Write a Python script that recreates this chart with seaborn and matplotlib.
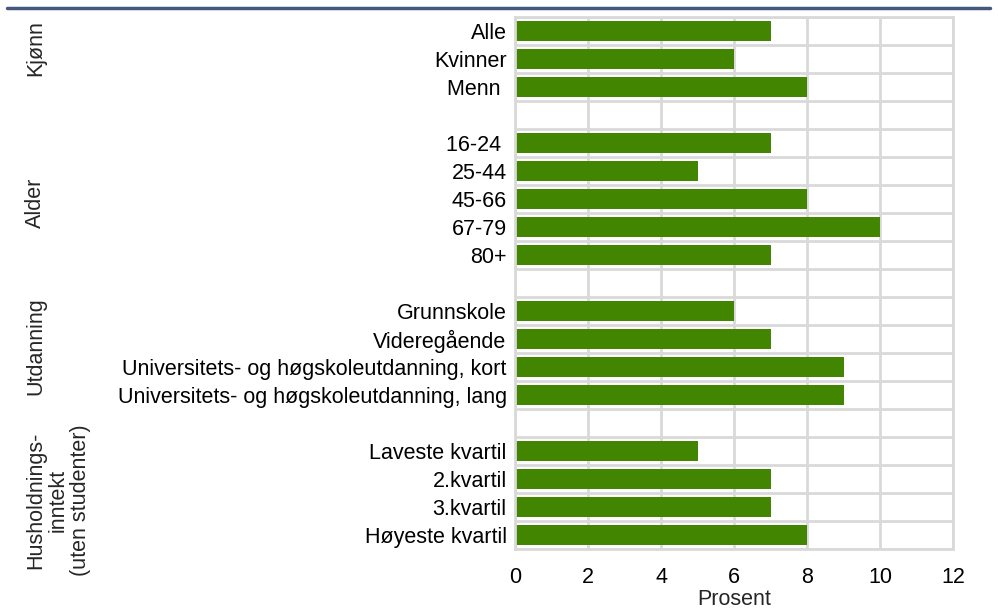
import matplotlib
matplotlib.use("Agg")
import matplotlib.pyplot as plt
from matplotlib.lines import Line2D
from matplotlib.ticker import MultipleLocator
import numpy as np
import pandas as pd
import seaborn as sns

# Category labels per row (spacer rows separate the groups)
labels = [
    "Alle", "Kvinner", "Menn ", " ",
    "16-24 ", "25-44", "45-66", "67-79", "80+", "  ",
    "Grunnskole", "Videregående",
    "Universitets- og høgskoleutdanning, kort",
    "Universitets- og høgskoleutdanning, lang", "   ",
    "Laveste kvartil", "2.kvartil", "3.kvartil", "Høyeste kvartil",
]
# Percent per row (NaN for spacer rows)
values = [
    7, 6, 8, np.nan,
    7, 5, 8, 10, 7, np.nan,
    6, 7, 9, 9, np.nan,
    5, 7, 7, 8,
]
# Group headings
groups = ["Kjønn", "Alder", "Utdanning", "Husholdnings-\ninntekt\n(uten studenter)"]
x_ticks = [0, 2, 4, 6, 8, 10, 12]

# Vertical placement of each heading, in row units
group_pos = [0.59, 6.14, 11.25, 16.75]

df = pd.DataFrame({"kategori": labels, "prosent": values})

sns.set_theme(style="white")
plt.rcParams["font.family"] = ["Liberation Sans", "DejaVu Sans"]

GRID = "#d9d9d9"
BAR = "#418500"
FS = 15.5

fig = plt.figure(figsize=(9.98, 6.12), dpi=100)
ax = fig.add_axes([0.516, 0.103, 0.439, 0.869])

sns.barplot(data=df, x="prosent", y="kategori", order=labels, color=BAR,
            saturation=1, width=0.7, orient="h", ax=ax, edgecolor="none",
            errorbar=None)

ax.set_xlim(0, 12)
ax.set_ylim(len(labels) - 0.5, -0.5)
ax.set_xticks(x_ticks)
ax.set_xticklabels([str(t) for t in x_ticks])
ax.yaxis.set_minor_locator(MultipleLocator(1, offset=0.5))
ax.set_axisbelow(True)
ax.grid(True, axis="x", which="major", color=GRID, linewidth=2)
ax.grid(True, axis="y", which="minor", color=GRID, linewidth=2)
ax.grid(False, axis="y", which="major")
for s in ax.spines.values():
    s.set_color(GRID)
    s.set_linewidth(2)

ax.tick_params(axis="both", which="both", length=0, labelsize=FS, colors="#000000")
ax.tick_params(axis="y", pad=6)
ax.tick_params(axis="x", pad=13)
ax.set_ylabel("")
ax.set_xlabel("Prosent", fontsize=FS, labelpad=1)

# Rotated group headings at the left edge
for name, yc in zip(groups, group_pos):
    yfig = fig.transFigure.inverted().transform(ax.transData.transform((0, yc)))[1]
    fig.text(25 / 998, yfig, name, rotation=90, ha="left", va="center",
             multialignment="center", fontsize=FS, linespacing=1.1)

# Rule along the top
fig.add_artist(Line2D([7 / 998, 990 / 998], [1 - 8 / 612, 1 - 8 / 612],
                      color="#44577f", linewidth=2.5, transform=fig.transFigure))

fig.savefig("out.png", dpi=100)
